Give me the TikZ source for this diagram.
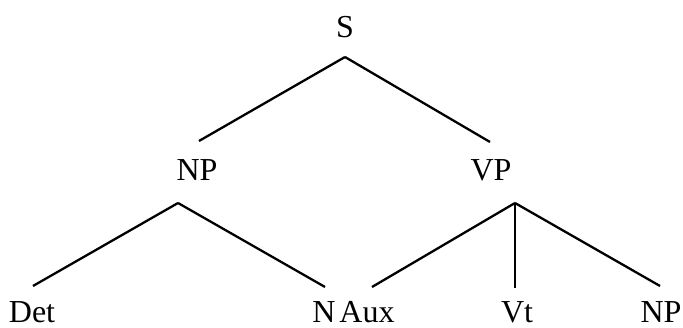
\documentclass[tikz,border=0pt]{standalone}
\usepackage{fontspec}
\setmainfont{Liberation Serif}
\usetikzlibrary{positioning}
\tikzset{
    x=1pt, y=-1pt, % image pixels, y pointing down
    cat/.style={anchor=base, inner sep=0pt, text depth=0pt, font=\fontsize{32}{38}\selectfont}, % category labels
    branch/.style={line width=2.3pt, line cap=butt},
}
\begin{document}
\begin{tikzpicture}
    \useasboundingbox (0,0) rectangle (683,328);

    % labels
    \node[cat] (s) at (345,38) {S};
    \node[cat] (np) at (197,181) {NP};
    \node[cat] (vp) at (491,181) {VP};
    \node[cat] (det) at (32,323) {Det};
    \node[cat] (n) at (324,323) {N};
    \node[cat] (aux) at (367,323) {Aux};
    \node[cat] (vt) at (517,323) {Vt};
    \node[cat] (np2) at (661,323) {NP};

    % branch points
    \coordinate (s-foot) at (345,57);
    \coordinate (np-head) at (199,141);
    \coordinate (vp-head) at (490,142);
    \coordinate (np-foot) at (178,203);
    \coordinate (vp-foot) at (515,203);
    \coordinate (det-head) at (33,286);
    \coordinate (n-head) at (325,287);
    \coordinate (aux-head) at (372,287);
    \coordinate (vt-head) at (515,288);
    \coordinate (np2-head) at (660,286);

    \draw[branch] (s-foot) -- (np-head);
    \draw[branch] (s-foot) -- (vp-head);
    \draw[branch] (np-foot) -- (det-head);
    \draw[branch] (np-foot) -- (n-head);
    \draw[branch] (vp-foot) -- (aux-head);
    \draw[branch] (vp-foot) -- (vt-head);
    \draw[branch] (vp-foot) -- (np2-head);
\end{tikzpicture}
\end{document}
